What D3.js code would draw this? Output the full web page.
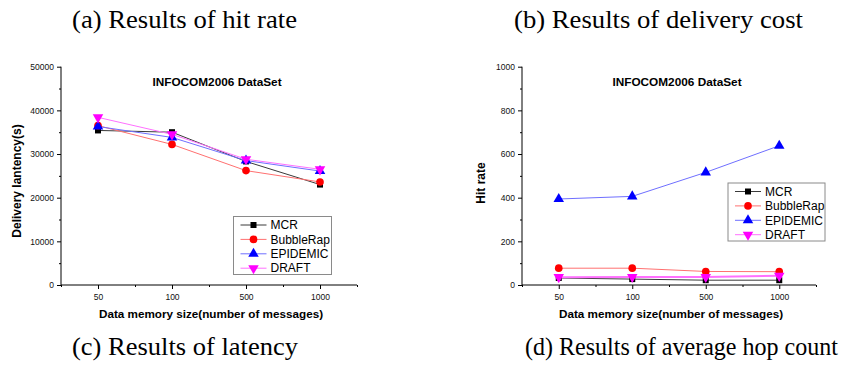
<!DOCTYPE html>
<html>
<head>
<meta charset="utf-8">
<script src="https://cdn.jsdelivr.net/npm/d3@7"></script>
<style>
  body { margin: 0; background: #fff; }
  svg text { font-family: "Liberation Sans", Arial, sans-serif; }
  .cap { font-family: "Liberation Serif", "Times New Roman", serif; }
</style>
</head>
<body>
<svg id="chart" width="845" height="368"></svg>
<script>
// data
const categories = ["50", "100", "500", "1000"];
const seriesNames = ["MCR", "BubbleRap", "EPIDEMIC", "DRAFT"];

const latencyMCR = [35400, 35000, 28300, 23000];
const latencyBubbleRap = [36500, 32200, 26200, 23600];
const latencyEpidemic = [36300, 33800, 28500, 26100];
const latencyDraft = [38400, 34500, 28800, 26500];

const hopMCR = [32, 27, 22, 22];
const hopBubbleRap = [77, 77, 62, 61];
const hopEpidemic = [394, 406, 516, 638];
const hopDraft = [36, 37, 37, 42];

const latencyTicks = [0, 10000, 20000, 30000, 40000, 50000];
const hopTicks = [0, 200, 400, 600, 800, 1000];

const lineColors = ["#3a3a3a", "#ff7070", "#6f6fff", "#ff70ff"];
const markColors = ["#000000", "#ff0000", "#0000ff", "#ff00ff"];
const markTypes = [d3.symbolSquare, d3.symbolCircle, d3.symbolTriangle, d3.symbolTriangle];
const markSizes = [36, 46, 48, 48];

const svg = d3.select('#chart');

function marker(g, i, x, y) {
  g.append('path')
    .attr('d', d3.symbol().type(markTypes[i]).size(markSizes[i])())
    .attr('transform', `translate(${x},${y})` + (i === 3 ? ' rotate(180)' : ''))
    .attr('fill', markColors[i]);
}

function drawPanel(opt) {
  const x = d3.scaleLinear().domain([-0.5, 3.5]).range([opt.left, opt.right]);
  const y = d3.scaleLinear().domain([0, opt.max]).range([285, 66.7]);
  const g = svg.append('g');

  // y axis major + minor
  const yAxis = g.append('g')
    .attr('transform', `translate(${opt.left},0)`)
    .call(d3.axisLeft(y).tickValues(opt.ticks).tickSize(4).tickPadding(3).tickFormat(d3.format('d')));
  g.append('g')
    .attr('transform', `translate(${opt.left},0)`)
    .call(d3.axisLeft(y).tickValues(d3.range(1, 10, 2).map(k => k * opt.max / 10)).tickSize(2).tickFormat(''))
    .select('.domain').remove();

  // x axis major + minor
  const xAxis = g.append('g')
    .attr('transform', 'translate(0,285)')
    .call(d3.axisBottom(x).tickValues([0, 1, 2, 3]).tickSize(4).tickPadding(5).tickFormat(i => categories[i]));
  g.append('g')
    .attr('transform', 'translate(0,285)')
    .call(d3.axisBottom(x).tickValues([-0.5, 0.5, 1.5, 2.5, 3.5]).tickSize(2).tickFormat(''))
    .select('.domain').remove();

  g.selectAll('.domain').attr('stroke', '#000');
  yAxis.select('.domain').attr('d', `M0,${y(0)}V${y(opt.max)}`);
  xAxis.select('.domain').attr('d', `M${opt.left},0H${opt.right}`);
  g.selectAll('.tick text').attr('font-size', 8.5).attr('fill', '#111');

  // title
  g.append('text')
    .attr('x', opt.titleX).attr('y', 86)
    .attr('text-anchor', 'middle')
    .attr('font-size', 11.8).attr('font-weight', 'bold')
    .text('INFOCOM2006 DataSet');

  // axis labels
  g.append('text')
    .attr('x', (opt.left + opt.right) / 2 + 2).attr('y', 318)
    .attr('text-anchor', 'middle')
    .attr('font-size', 11.7).attr('font-weight', 'bold')
    .text('Data memory size(number of messages)');
  g.append('text')
    .attr('transform', `translate(${opt.yLabelX},${opt.yLabelY}) rotate(-90)`)
    .attr('text-anchor', 'middle')
    .attr('font-size', 12).attr('font-weight', 'bold')
    .text(opt.yLabel);

  // series
  const line = d3.line().x((d, i) => x(i)).y(d => y(d));
  opt.series.forEach((vals, s) => {
    g.append('path')
      .attr('d', line(vals))
      .attr('fill', 'none')
      .attr('stroke', lineColors[s])
      .attr('stroke-width', s === 3 && opt.max < 5000 ? 2 : 1);
  });
  opt.series.forEach((vals, s) => {
    vals.forEach((v, i) => marker(g, s, x(i), y(v)));
  });

  // legend
  const lg = g.append('g');
  lg.append('rect')
    .attr('x', opt.legX).attr('y', opt.legY)
    .attr('width', opt.legW).attr('height', 58)
    .attr('fill', '#fff').attr('stroke', '#8a8a8a').attr('stroke-width', 1);
  seriesNames.forEach((name, s) => {
    const ly = opt.legY + 8.5 + s * 14.4;
    lg.append('line')
      .attr('x1', opt.legX + 7).attr('x2', opt.legX + 33)
      .attr('y1', ly).attr('y2', ly)
      .attr('stroke', lineColors[s]).attr('stroke-width', 1);
    marker(lg, s, opt.legX + 20, ly);
    lg.append('text')
      .attr('x', opt.legX + 37).attr('y', ly + 4.2)
      .attr('font-size', 12)
      .text(name);
  });
}

drawPanel({
  left: 61, right: 357, max: 50000, ticks: latencyTicks,
  titleX: 217, yLabel: 'Delivery lantency(s)', yLabelX: 21, yLabelY: 181,
  series: [latencyMCR, latencyBubbleRap, latencyEpidemic, latencyDraft],
  legX: 233.5, legY: 216.5, legW: 98
});
drawPanel({
  left: 522, right: 816, max: 1000, ticks: hopTicks,
  titleX: 677, yLabel: 'Hit rate', yLabelX: 485, yLabelY: 183,
  series: [hopMCR, hopBubbleRap, hopEpidemic, hopDraft],
  legX: 728, legY: 183, legW: 97
});

// panel captions
const captions = [
  { t: '(a) Results of hit rate', x: 72, y: 28, w: 225 },
  { t: '(b) Results of delivery cost', x: 514, y: 28, w: 289 },
  { t: '(c) Results of latency', x: 72, y: 355, w: 226 },
  { t: '(d) Results of average hop count', x: 525, y: 355, w: 313 }
];
svg.selectAll('text.cap')
  .data(captions)
  .enter()
  .append('text')
  .attr('class', 'cap')
  .attr('x', d => d.x)
  .attr('y', d => d.y)
  .attr('font-size', 24.3)
  .attr('textLength', d => d.w)
  .attr('lengthAdjust', 'spacingAndGlyphs')
  .text(d => d.t);
</script>
</body>
</html>
